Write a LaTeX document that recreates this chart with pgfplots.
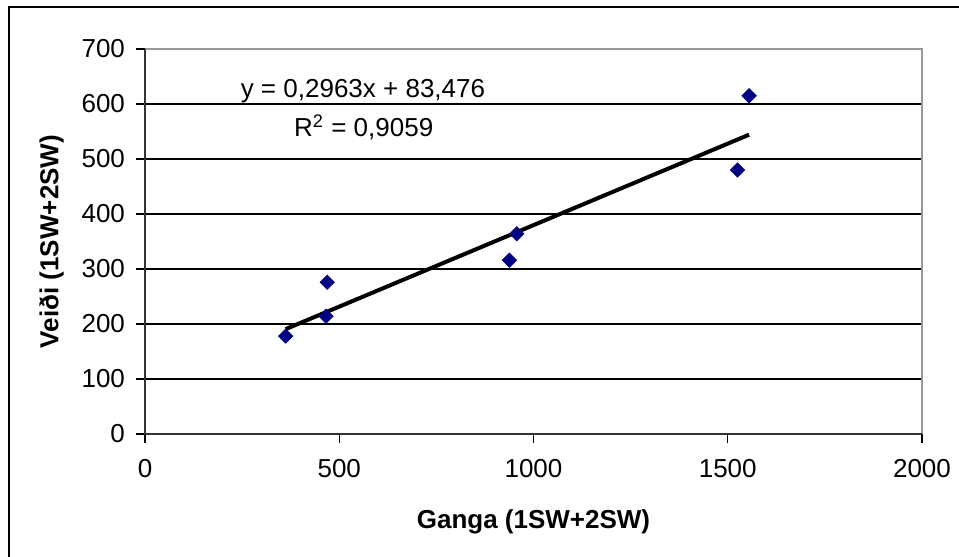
\documentclass[border=0pt]{standalone}
\usepackage{pgfplots}
\pgfplotsset{compat=1.18}
\usepackage{fontspec}
\setmainfont{Liberation Sans}
\definecolor{navy}{RGB}{0,0,128}
\begin{document}
\begin{tikzpicture}
\path[use as bounding box] (0pt,0pt) rectangle (479.5pt,278.5pt);
\draw[line width=1.2pt] (4.5pt,-10pt) -- (4.5pt,275pt) -- (490pt,275pt);
\begin{axis}[
  at={(72.5pt,61.5pt)}, anchor=origin,
  scale only axis, width=388.5pt, height=192.5pt,
  xmin=0, xmax=2000, ymin=0, ymax=700,
  xtick={0,500,...,2000}, ytick={0,100,...,700},
  ymajorgrids, major grid style={black, line width=0.6pt},
  axis line style={draw=none},
  tick style={black, line width=0.6pt},
  tick align=outside, major tick length=4.5pt,
  xtick pos=bottom, ytick pos=left,
  /pgf/number format/assume math mode=true,
  /pgf/number format/1000 sep={},
  tick label style={font=\fontsize{13}{15}\selectfont},
  xticklabel style={yshift=-4.5pt},
  yticklabel style={xshift=-2pt},
  xlabel={\bfseries Ganga (1SW+2SW)},
  ylabel={\bfseries Veiði (1SW+2SW)},
  label style={font=\fontsize{13}{15}\selectfont},
  xlabel style={yshift=-9pt},
  ylabel style={yshift=2pt},
  clip=false,
]
\draw[gray!80, line width=1pt] (axis cs:0,700) -- (axis cs:2000,700) -- (axis cs:2000,0);
\draw[black!80, line width=0.8pt] (axis cs:0,700) -- (axis cs:0,0) -- (axis cs:2000,0);
\addplot[only marks, mark=square*, mark size=2.5pt, color=navy, mark options={fill=navy, draw=navy, rotate=45}] coordinates {
(362,178) (466,214) (469,276) (938,316) (957,364) (1525,480) (1555,615)
};
\addplot[black, line width=2pt, no marks] coordinates {(362,190.7) (1555,544.2)};
\node[font=\fontsize{13}{15}\selectfont] at (axis cs:561,624) {y = 0,2963x + 83,476};
\node[font=\fontsize{13}{15}\selectfont] at (axis cs:563,557) {R\textsuperscript{2} = 0,9059};
\end{axis}
\end{tikzpicture}
\end{document}
